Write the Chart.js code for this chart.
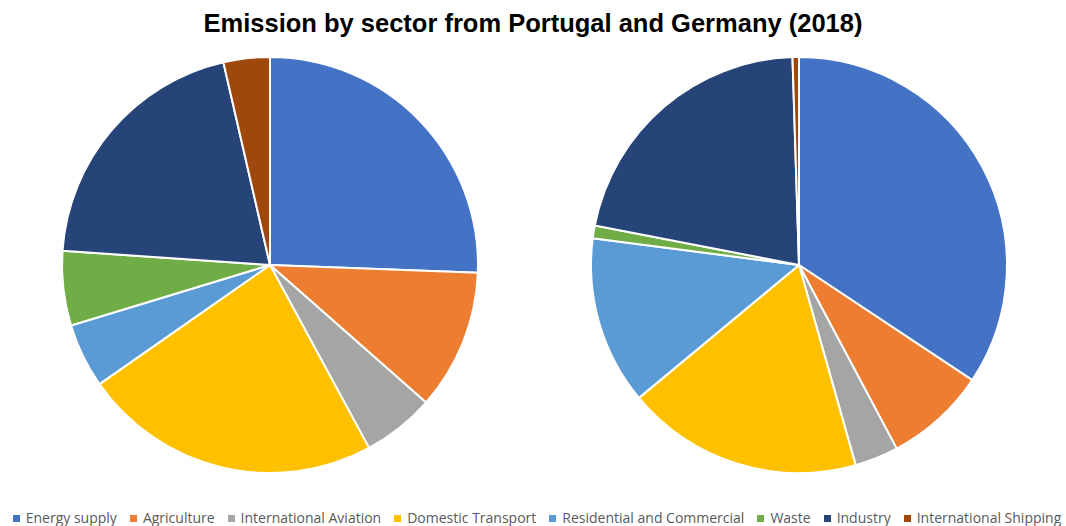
<!DOCTYPE html>
<html>
<head>
<meta charset="utf-8">
<script src="https://cdn.jsdelivr.net/npm/chart.js@4"></script>
<style>
  html, body { margin: 0; padding: 0; background: #fff; }
  body { width: 1066px; height: 526px; position: relative; overflow: hidden; }
  #title {
    position: absolute; left: 0; top: 9px; width: 1066px; text-align: center;
    font-family: "Liberation Sans", Arial, sans-serif; font-weight: bold; font-size: 25.5px; color: #000;
  }
  canvas { position: absolute; }
  #legend {
    position: absolute; left: 4px; top: 508px; width: 1066px;
    display: flex; justify-content: center; white-space: nowrap;
    font-family: "Open Sans", sans-serif; font-size: 14px; color: #595959; line-height: 20px;
  }
  .item { display: flex; align-items: center; margin: 0 6.5px; }
  .box { width: 7px; height: 7px; margin-right: 6px; }
</style>
</head>
<body>
<div id="title">Emission by sector from Portugal and Germany (2018)</div>
<canvas id="pt" width="440" height="440" style="left:50px; top:45px;"></canvas>
<canvas id="de" width="440" height="440" style="left:579px; top:45px;"></canvas>
<div id="legend"></div>
<script>
const sectors = ["Energy supply", "Agriculture", "International Aviation", "Domestic Transport",
                 "Residential and Commercial", "Waste", "Industry", "International Shipping"];
const sectorColors = ["#4472C4", "#ED7D31", "#A5A5A5", "#FFC000", "#5B9BD5", "#70AD47", "#264478", "#9E480E"];
// Share of total emissions (%)
const portugal = [25.6, 10.9, 5.6, 23.2, 5.0, 5.8, 20.3, 3.6];
const germany  = [34.4, 7.9, 3.4, 18.4, 13.1, 1.0, 21.5, 0.5];

function makePie(id, values) {
  return new Chart(document.getElementById(id), {
    type: 'pie',
    data: {
      labels: sectors,
      datasets: [{ data: values, backgroundColor: sectorColors, borderColor: '#ffffff', borderWidth: 2 }]
    },
    options: {
      responsive: false,
      animation: false,
      devicePixelRatio: 1,
      radius: 208,
      layout: { padding: 0 },
      plugins: { legend: { display: false }, title: { display: false }, tooltip: { enabled: false } }
    }
  });
}
makePie('pt', portugal);
makePie('de', germany);

const legend = document.getElementById('legend');
sectors.forEach((s, i) => {
  const item = document.createElement('div');
  item.className = 'item';
  const box = document.createElement('span');
  box.className = 'box';
  box.style.background = sectorColors[i];
  const txt = document.createElement('span');
  txt.textContent = s;
  item.appendChild(box);
  item.appendChild(txt);
  legend.appendChild(item);
});
</script>
</body>
</html>
